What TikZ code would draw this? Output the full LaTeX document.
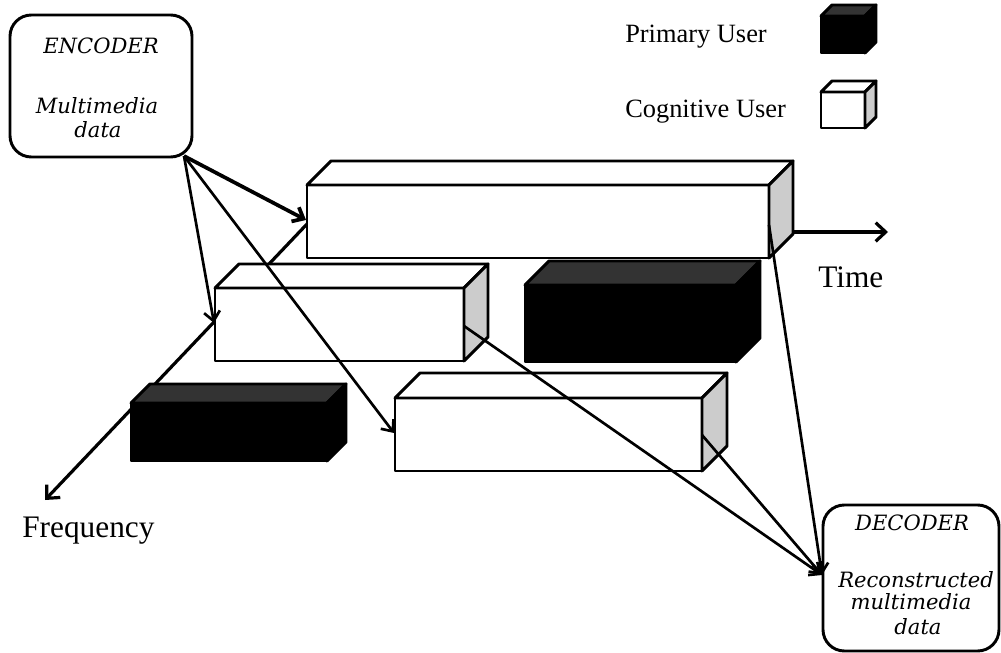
\documentclass[tikz,border=0pt]{standalone}
\usepackage{fontspec}
\setmainfont{Liberation Serif}
\newfontfamily\boxfont{DejaVu Serif}
\usetikzlibrary{arrows.meta}
\definecolor{sidegray}{HTML}{CCCCCC}
\definecolor{topdark}{HTML}{333333}
% Prism: front face (#1,#2)-(#3,#4), depth #5, fills for front, top and side
\newcommand\drawprism[8]{%
  \filldraw[face,fill=#6] (#1,#2) rectangle (#3,#4);
  \filldraw[face,fill=#7] (#1,#2) -- (#1+#5,#2-#5) -- (#3+#5,#2-#5) -- (#3,#2) -- cycle;
  \filldraw[face,fill=#8] (#3,#2) -- (#3+#5,#2-#5) -- (#3+#5,#4-#5) -- (#3,#4) -- cycle;
}
\begin{document}
\begin{tikzpicture}[x=0.75pt,y=-0.75pt,
  face/.style={draw=black,line width=2.2pt,line join=round},
  roundbox/.style={draw=black,line width=2.2pt,rounded corners=16pt},
  conn/.style={line width=2pt,-{Straight Barb[length=7pt,width=12pt]}},
  mainconn/.style={conn,line width=2.8pt},
  axis/.style={line width=2.4pt,-{Straight Barb[length=7.5pt,width=14pt]}},
  label/.style={inner sep=0pt,anchor=base west,font=\fontsize{23.5}{26}\selectfont},
  legend/.style={inner sep=0pt,anchor=base west,font=\fontsize{19.8}{22}\selectfont},
  boxtext/.style={inner sep=0pt,anchor=base,font=\boxfont\itshape\fontsize{15.8}{18}\selectfont}]
\useasboundingbox (0,0) rectangle (1001,653);

% connection points
\coordinate (encout) at (184,156);
\coordinate (decin) at (822,575);
\coordinate (Ain) at (306,220);
\coordinate (Bin) at (214,323);
\coordinate (Ein) at (394,433);
\coordinate (Aout) at (769,225);
\coordinate (Bout) at (464,326);
\coordinate (Eout) at (702,435);
\coordinate (tstart) at (700,232);
\coordinate (tend) at (888,232);
\coordinate (fstart) at (307,224);
\coordinate (fend) at (45,500);

% axes (behind the blocks)
\draw[axis] (tstart) -- (tend);
\draw[axis] (fstart) -- (fend);
\node[label] (time) at (818,287) {Time};
\node[label] (freq) at (22,537) {Frequency};

% spectrum blocks
\drawprism{307}{185}{769}{258}{24}{white}{white}{sidegray}
\drawprism{215}{288}{464}{361}{24}{white}{white}{sidegray}
\drawprism{525}{285}{736}{362}{24}{black}{topdark}{black}
\drawprism{395}{398}{702}{471}{25}{white}{white}{sidegray}
\drawprism{131}{403}{327}{461}{19}{black}{topdark}{black}

% legend
\node[legend] (lp) at (625,42) {Primary User};
\node[legend] (lc) at (625,117) {Cognitive User};
\drawprism{821}{16}{865}{53}{11}{black}{topdark}{black}
\drawprism{821}{92}{865}{128}{11}{white}{white}{sidegray}

% encoder
\draw[roundbox] (10,15) rectangle (192,157);
\node[boxtext] (enc1) at (101,53) {ENCODER};
\node[boxtext] (enc2) at (97,113) {Multimedia};
\node[boxtext] (enc3) at (98,137) {data};

% decoder
\draw[roundbox,fill=white] (823,505) rectangle (999,651);
\node[boxtext] (dec1) at (912,530) {DECODER};
\node[boxtext] (dec2) at (916,587) {Reconstructed};
\node[boxtext] (dec3) at (911,609) {multimedia};
\node[boxtext] (dec4) at (918,634) {data};

% encoder to blocks
\draw[mainconn] (encout) -- (Ain);
\draw[conn] (encout) -- (Bin);
\draw[conn] (encout) -- (Ein);

% blocks to decoder
\draw[conn] (Aout) -- (decin);
\draw[conn] (Bout) -- (decin);
\draw[conn] (Eout) -- (decin);
\end{tikzpicture}
\end{document}
